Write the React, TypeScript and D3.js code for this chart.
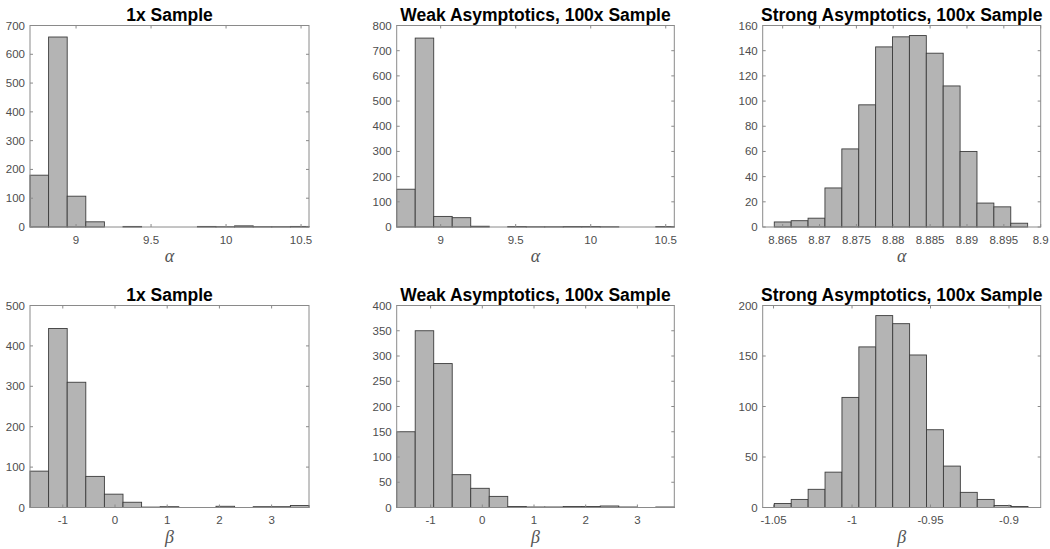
import React from "react";
import * as d3 from "d3";

// ---------- data ----------
const alphaSample1Counts = [180, 660, 107, 18, 0, 2, 0, 0, 0, 2, 1, 4, 1, 1, 2];
const alphaWeakCounts = [150, 750, 42, 37, 3, 0, 2, 1, 1, 2, 2, 1, 0, 0, 2];
const alphaStrongCounts = [4, 5, 7, 31, 62, 97, 143, 151, 152, 138, 112, 60, 19, 16, 3];
const betaSample1Counts = [90, 443, 310, 77, 33, 13, 1, 2, 0, 0, 3, 0, 2, 2, 5];
const betaWeakCounts = [150, 350, 285, 65, 38, 22, 2, 1, 1, 2, 2, 3, 1, 0, 1];
const betaStrongCounts = [4, 8, 18, 35, 109, 159, 190, 182, 151, 77, 41, 15, 8, 2, 1];

// bin ranges [first edge, last edge]
const alphaSample1Bins = [8.693, 10.553];
const alphaWeakBins = [8.707, 10.557];
const alphaStrongBins = [8.86386, 8.89823];
const betaSample1Bins = [-1.628, 3.716];
const betaWeakBins = [-1.656, 3.714];
const betaStrongBins = [-1.0495, -0.8879];

// x axis limits
const alphaSample1XLim = [8.693, 10.553];
const alphaWeakXLim = [8.707, 10.557];
const alphaStrongXLim = [8.86229, 8.9];
const betaSample1XLim = [-1.628, 3.716];
const betaWeakXLim = [-1.656, 3.714];
const betaStrongXLim = [-1.0569, -0.8798];

// ticks
const alphaXTicks = [9, 9.5, 10, 10.5];
const alphaXTickLabels = ["9", "9.5", "10", "10.5"];
const alphaStrongXTicks = [8.865, 8.87, 8.875, 8.88, 8.885, 8.89, 8.895, 8.9];
const alphaStrongXTickLabels = ["8.865", "8.87", "8.875", "8.88", "8.885", "8.89", "8.895", "8.9"];
const betaXTicks = [-1, 0, 1, 2, 3];
const betaXTickLabels = ["-1", "0", "1", "2", "3"];
const betaStrongXTicks = [-1.05, -1, -0.95, -0.9];
const betaStrongXTickLabels = ["-1.05", "-1", "-0.95", "-0.9"];

const alphaSample1YTicks = [0, 100, 200, 300, 400, 500, 600, 700];
const alphaWeakYTicks = [0, 100, 200, 300, 400, 500, 600, 700, 800];
const alphaStrongYTicks = [0, 20, 40, 60, 80, 100, 120, 140, 160];
const betaSample1YTicks = [0, 100, 200, 300, 400, 500];
const betaWeakYTicks = [0, 50, 100, 150, 200, 250, 300, 350, 400];
const betaStrongYTicks = [0, 50, 100, 150, 200];

const titles = ["1x Sample", "Weak Asymptotics, 100x Sample", "Strong Asymptotics, 100x Sample"];
const xLabels = ["\u03b1", "\u03b2"];

// ---------- layout ----------
const colX = [
  [30, 309],
  [396.7, 674.3],
  [762.7, 1040.7],
];
const rowY = [
  [25.5, 227],
  [305.5, 507.5],
];

const panels = [
  { row: 0, col: 0, counts: alphaSample1Counts, bins: alphaSample1Bins, xlim: alphaSample1XLim, xt: alphaXTicks, xtl: alphaXTickLabels, yt: alphaSample1YTicks },
  { row: 0, col: 1, counts: alphaWeakCounts, bins: alphaWeakBins, xlim: alphaWeakXLim, xt: alphaXTicks, xtl: alphaXTickLabels, yt: alphaWeakYTicks },
  { row: 0, col: 2, counts: alphaStrongCounts, bins: alphaStrongBins, xlim: alphaStrongXLim, xt: alphaStrongXTicks, xtl: alphaStrongXTickLabels, yt: alphaStrongYTicks },
  { row: 1, col: 0, counts: betaSample1Counts, bins: betaSample1Bins, xlim: betaSample1XLim, xt: betaXTicks, xtl: betaXTickLabels, yt: betaSample1YTicks },
  { row: 1, col: 1, counts: betaWeakCounts, bins: betaWeakBins, xlim: betaWeakXLim, xt: betaXTicks, xtl: betaXTickLabels, yt: betaWeakYTicks },
  { row: 1, col: 2, counts: betaStrongCounts, bins: betaStrongBins, xlim: betaStrongXLim, xt: betaStrongXTicks, xtl: betaStrongXTickLabels, yt: betaStrongYTicks },
];

const SANS = "'Liberation Sans', Arial, Helvetica, sans-serif";
const TICK_COLOR = "#4d4d4d";
const FRAME_COLOR = "#8a8a8a";

function Panel({ p }: { p: any }) {
  const [x0, x1] = colX[p.col];
  const [y0, y1] = rowY[p.row];
  const x = d3.scaleLinear().domain(p.xlim).range([x0, x1]);
  const y = d3
    .scaleLinear()
    .domain([0, p.yt[p.yt.length - 1]])
    .range([y1, y0]);
  const n = p.counts.length;
  const edge = d3.scaleLinear().domain([0, n]).range(p.bins);
  const tl = 3;
  return (
    <g>
      {p.counts.map((c: number, i: number) => {
        const xa = x(edge(i));
        const xb = x(edge(i + 1));
        const yt = y(c);
        return (
          <rect
            key={i}
            x={xa}
            y={yt}
            width={xb - xa}
            height={Math.max(0, y1 - yt)}
            fill="#b4b4b4"
            stroke="#3c3c3c"
            strokeWidth={0.9}
          />
        );
      })}
      <rect x={x0} y={y0} width={x1 - x0} height={y1 - y0} fill="none" stroke={FRAME_COLOR} strokeWidth={1} />
      {p.xt.map((t: number, i: number) => (
        <g key={"xt" + i}>
          <line x1={x(t)} x2={x(t)} y1={y1} y2={y1 - tl} stroke={FRAME_COLOR} />
          <line x1={x(t)} x2={x(t)} y1={y0} y2={y0 + tl} stroke={FRAME_COLOR} />
          <text x={x(t)} y={y1 + 16.5} textAnchor="middle" fontFamily={SANS} fontSize={11.5} fill={TICK_COLOR}>
            {p.xtl[i]}
          </text>
        </g>
      ))}
      {p.yt.map((t: number, i: number) => (
        <g key={"yt" + i}>
          <line x1={x0} x2={x0 + tl} y1={y(t)} y2={y(t)} stroke={FRAME_COLOR} />
          <line x1={x1} x2={x1 - tl} y1={y(t)} y2={y(t)} stroke={FRAME_COLOR} />
          <text x={x0 - 5} y={y(t) + 4} textAnchor="end" fontFamily={SANS} fontSize={11.5} fill={TICK_COLOR}>
            {String(t)}
          </text>
        </g>
      ))}
      <text
        x={(x0 + x1) / 2}
        y={y0 - 5}
        textAnchor="middle"
        fontFamily={SANS}
        fontWeight="bold"
        fontSize={17.5}
        fill="#000"
      >
        {titles[p.col]}
      </text>
      <text
        x={(x0 + x1) / 2}
        y={y1 + 35}
        textAnchor="middle"
        fontFamily="'Liberation Serif', 'Times New Roman', serif"
        fontStyle="italic"
        fontSize={18}
        fill="#555"
      >
        {xLabels[p.row]}
      </text>
    </g>
  );
}

export default function App() {
  return (
    <svg
      width={1050}
      height={549}
      style={{ position: "absolute", left: 0, top: 0, display: "block", background: "#fff" }}
    >
      <rect x={0} y={0} width={1050} height={549} fill="#fff" />
      {panels.map((p, i) => (
        <Panel key={i} p={p} />
      ))}
    </svg>
  );
}
